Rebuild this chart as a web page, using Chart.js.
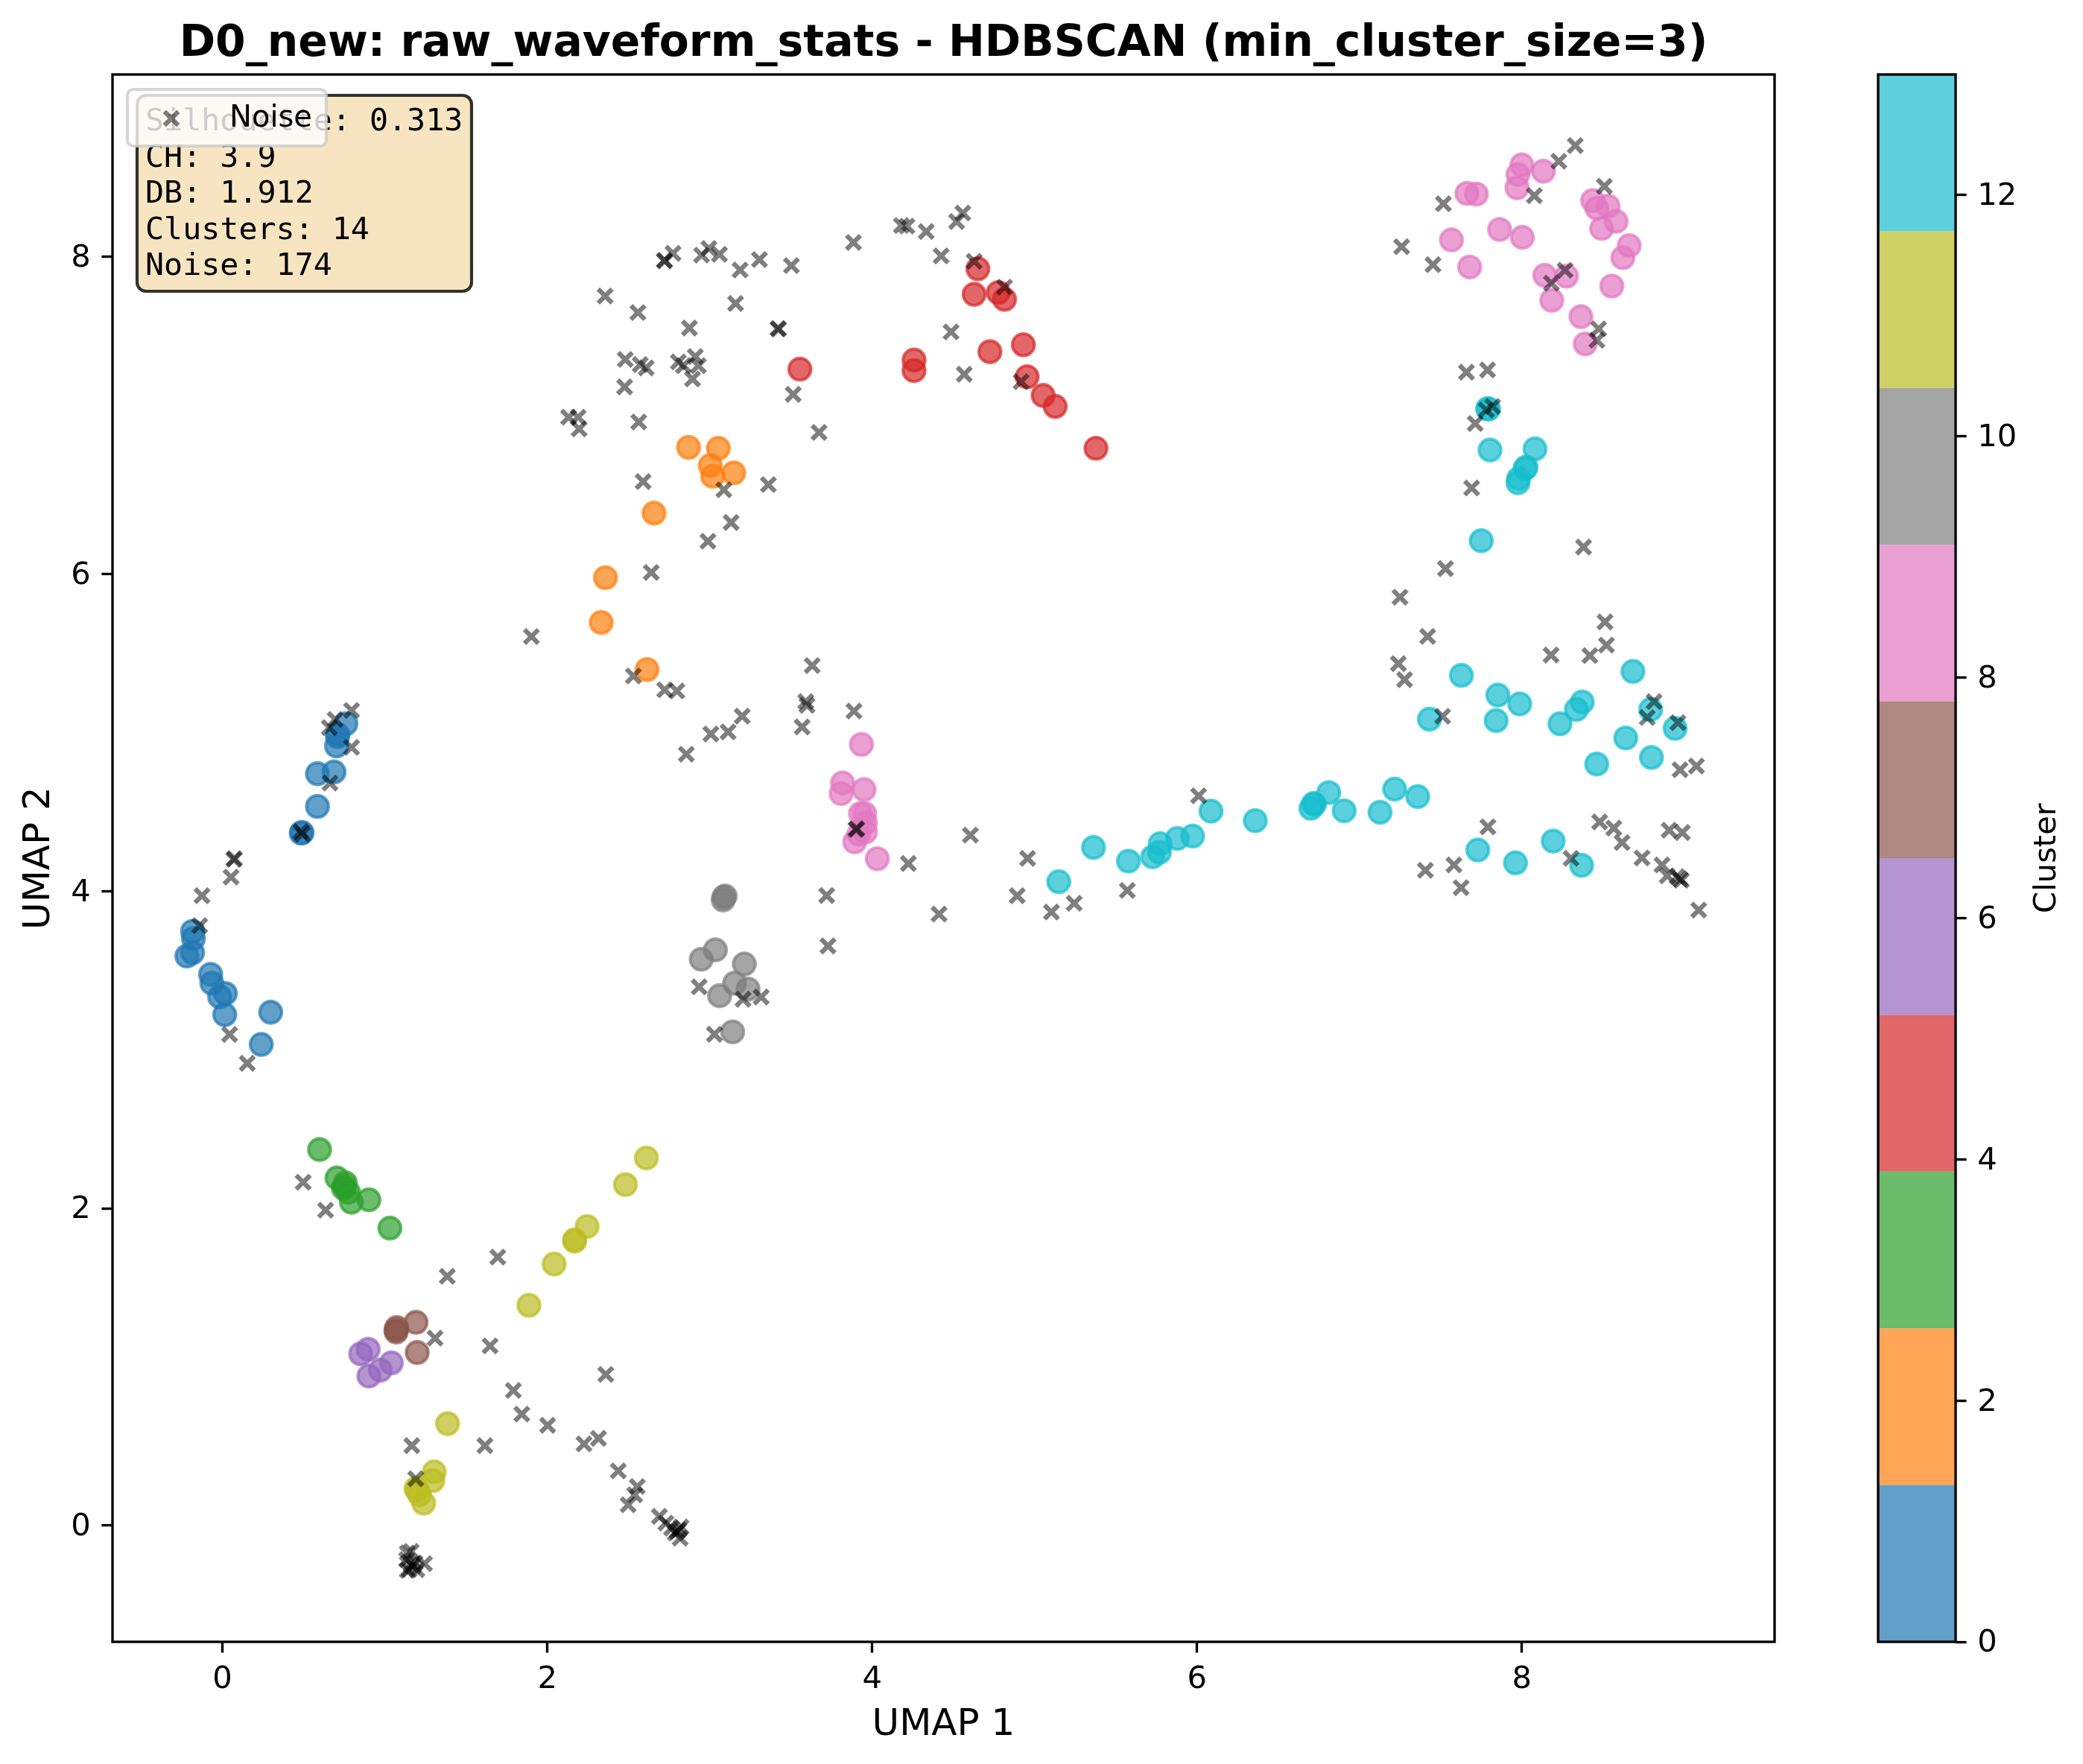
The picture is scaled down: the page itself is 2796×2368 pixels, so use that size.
<!DOCTYPE html>
<html>
<head>
<meta charset="utf-8">
<title>D0_new raw_waveform_stats HDBSCAN</title>
<script src="https://cdn.jsdelivr.net/npm/chart.js@4/dist/chart.umd.min.js"></script>
<style>
  html, body { margin: 0; padding: 0; background: #fff; }
  #wrap { position: relative; width: 2796px; height: 2368px; }
  canvas { position: absolute; top: 0; }
  #main { left: 0; }
  #cbar { left: 2400px; }
</style>
</head>
<body>
<div id="wrap">
  <canvas id="main" width="2796" height="2368"></canvas>
  <canvas id="cbar" width="396" height="2368"></canvas>
</div>
<script>
// values, [umap1, umap2]
const noise = [
  [0.795,5.14],[0.694,5.083],[0.658,5.032],[0.795,4.907],[0.662,4.682],[0.483,4.376],[0.492,4.36],
  [0.074,4.206],[0.07,4.2],[0.053,4.089],[-0.126,3.972],[-0.14,3.783],[0.044,3.097],[0.153,2.915],
  [0.497,2.165],[0.635,1.989],[1.695,1.693],[1.384,1.572],[1.309,1.182],[1.648,1.133],[2.36,0.953],
  [1.791,0.852],[1.843,0.703],[2.002,0.632],[1.166,0.504],[1.616,0.504],[2.226,0.515],[2.315,0.55],
  [2.437,0.345],[1.19,0.295],[2.554,0.246],[2.538,0.194],[2.498,0.131],[2.69,0.058],[2.73,0.016],
  [2.765,-0.016],[2.8,-0.037],[2.811,-0.026],[2.818,-0.079],[2.788,-0.047],[2.823,-0.009],
  [1.138,-0.173],[1.162,-0.163],[1.134,-0.215],[1.162,-0.246],[1.185,-0.236],[1.15,-0.278],
  [1.173,-0.257],[1.197,-0.278],[1.244,-0.24],[1.138,-0.282],
  [8.329,8.702],[8.228,8.603],[8.508,8.445],[8.077,8.386],[7.517,8.335],[7.26,8.064],[7.453,7.951],
  [8.266,7.916],[8.182,7.834],[8.473,7.546],[8.462,7.474],[7.659,7.273],[7.789,7.287],[7.82,7.057],
  [7.781,7.034],[7.713,6.949],[7.691,6.543],[7.53,6.034],[8.38,6.17],
  [7.25,5.854],[7.42,5.607],[7.24,5.435],[7.278,5.334],[7.512,5.103],[8.512,5.698],[8.521,5.552],
  [8.18,5.489],[8.419,5.486],[8.814,5.196],[8.772,5.095],[8.961,5.063],[8.974,4.766],[9.075,4.789],
  [7.791,4.406],[8.479,4.437],[8.566,4.398],[8.617,4.307],[8.74,4.21],[8.863,4.166],[8.895,4.097],
  [8.907,4.385],[8.988,4.37],[8.956,4.092],[8.974,4.077],[8.982,4.069],[8.303,4.207],[7.582,4.166],
  [7.406,4.132],[7.626,4.022],[9.089,3.881],
  [3.885,8.091],[2.774,8.022],[2.72,7.978],[2.723,7.975],[2.95,8.011],[2.995,8.053],[3.06,8.016],
  [3.187,7.917],[3.306,7.983],[3.503,7.945],[2.356,7.753],[2.558,7.649],[3.159,7.706],[2.875,7.551],
  [3.42,7.548],[3.424,7.545],[2.48,7.353],[2.572,7.321],[2.609,7.3],[2.807,7.338],[2.838,7.314],
  [2.911,7.372],[2.93,7.314],[2.894,7.23],[2.476,7.18],[3.514,7.133],[2.131,6.989],[2.19,6.989],
  [2.196,6.915],[2.563,6.959],[3.673,6.893],[2.59,6.583],[3.361,6.564],[3.087,6.531],[3.132,6.325],
  [2.989,6.207],[2.64,6.01],[1.902,5.606],[2.53,5.357],[2.723,5.27],[2.798,5.263],[3.631,5.423],
  [3.591,5.196],[3.599,5.172],[3.569,5.036],[3.888,5.136],[3.2,5.104],[3.113,5.005],[3.007,4.991],
  [2.856,4.864],[3.905,4.394],[3.9,4.39],[4.223,4.175],[3.72,3.973],[4.412,3.856],[3.728,3.655],
  [2.935,3.397],[3.205,3.319],[3.317,3.333],[3.029,3.098],
  [4.558,8.276],[4.52,8.223],[4.18,8.198],[4.214,8.194],[4.333,8.16],[4.425,8.006],[4.628,7.972],
  [4.815,7.809],[4.486,7.527],[4.567,7.26],[4.917,7.213],
  [6.01,4.602],[4.605,4.354],[4.957,4.207],[4.893,3.972],[5.244,3.924],[5.104,3.869],[5.571,4.005]
];
const blue = [
  [0.76,5.056],[0.711,4.988],[0.708,4.975],[0.702,4.916],[0.585,4.741],[0.687,4.752],[0.585,4.535],
  [0.485,4.367],[0.49,4.37],[-0.184,3.747],[-0.179,3.702],[-0.184,3.612],[-0.219,3.591],[-0.073,3.476],
  [-0.065,3.42],[0.018,3.355],[-0.017,3.334],[0.014,3.222],[0.297,3.237],[0.239,3.034]
];
const orange = [
  [2.87,6.799],[3.053,6.793],[3.003,6.685],[3.018,6.617],[3.148,6.638],[2.657,6.384],[2.358,5.977],
  [2.332,5.695],[2.614,5.398]
];
const green = [
  [0.598,2.371],[0.705,2.192],[0.757,2.161],[0.745,2.127],[0.776,2.102],[0.794,2.039],[0.902,2.054],
  [1.031,1.876],[0.75,2.14]
];
const red = [
  [4.651,7.925],[4.628,7.764],[4.777,7.775],[4.815,7.732],[4.931,7.446],[4.725,7.402],[4.258,7.349],
  [4.258,7.283],[4.954,7.244],[5.053,7.126],[5.127,7.057],[5.378,6.793],[3.555,7.292]
];
const purple = [[0.897,1.112],[0.851,1.083],[1.04,1.026],[0.972,0.98],[0.902,0.943]];
const brown = [[1.192,1.282],[1.073,1.249],[1.068,1.232],[1.07,1.221],[1.199,1.091]];
const pink = [
  [8.0,8.58],[7.976,8.52],[7.97,8.436],[8.133,8.54],[7.662,8.4],[7.72,8.396],[7.567,8.107],[7.863,8.173],
  [8.003,8.123],[7.679,7.936],[8.436,8.355],[8.462,8.306],[8.531,8.319],[8.58,8.224],[8.491,8.179],
  [8.661,8.071],[8.622,7.995],[8.554,7.816],[8.141,7.884],[8.275,7.879],[8.184,7.726],[8.364,7.623],
  [8.39,7.451],
  [3.934,4.926],[3.818,4.683],[3.809,4.616],[3.95,4.641],[3.928,4.49],[3.954,4.49],[3.959,4.431],
  [3.959,4.373],[3.918,4.359],[3.893,4.311],[4.032,4.205]
];
const gray = [
  [3.095,3.97],[3.087,3.962],[3.083,3.945],[3.035,3.63],[2.948,3.571],[3.213,3.541],[3.153,3.42],
  [3.236,3.383],[3.061,3.341],[3.141,3.113]
];
const olive = [
  [2.61,2.318],[2.481,2.15],[2.245,1.886],[2.168,1.802],[2.168,1.794],[2.042,1.649],[1.887,1.389],
  [1.386,0.643],[1.304,0.339],[1.295,0.284],[1.192,0.234],[1.213,0.194],[1.239,0.141],[1.197,0.225]
];
const cyan = [
  [7.789,7.043],[7.795,7.04],[7.804,6.782],[8.081,6.789],[8.026,6.674],[8.02,6.665],[7.98,6.602],[7.976,6.575],
  [7.75,6.21],[7.628,5.361],[7.852,5.237],[7.987,5.181],[7.842,5.076],[7.431,5.085],[8.235,5.056],
  [8.336,5.146],[8.372,5.193],[8.684,5.386],[8.793,5.146],[8.944,5.027],[8.64,4.966],[8.798,4.843],
  [8.461,4.802],[6.811,4.622],[6.718,4.554],[6.701,4.523],[6.906,4.507],[7.127,4.498],[7.217,4.644],
  [7.359,4.597],[7.729,4.26],[7.961,4.179],[8.193,4.316],[8.368,4.163],
  [5.149,4.06],[5.363,4.276],[5.578,4.19],[5.727,4.217],[5.769,4.246],[5.773,4.3],[5.879,4.333],
  [5.973,4.348],[6.086,4.505],[6.359,4.445],[6.723,4.547]
];

const xTicks = [0, 2, 4, 6, 8];
const yTicks = [0, 2, 4, 6, 8];
const cbarTicks = [0, 2, 4, 6, 8, 10, 12];
const cbarBands = [1.3, 1.3, 1.3, 1.3, 1.3, 1.3, 1.3, 1.3, 1.3, 1.3];
const statsLines = ['Silhouette: 0.313', 'CH: 3.9', 'DB: 1.912', 'Clusters: 14', 'Noise: 174'];

const tab10 = ['31,119,180', '255,127,14', '44,160,44', '214,39,40', '148,103,189',
  '140,86,75', '227,119,194', '127,127,127', '188,189,34', '23,190,207'];
const groups = [blue, orange, green, red, purple, brown, pink, gray, olive, cyan];

const FONT = "'DejaVu Sans'";
const PT = 300 / 72; // the source figure was saved at 300 dpi
const tickFont = { family: FONT, size: 10 * PT };

const clusterSets = groups.map((g, i) => ({
  data: g.map(p => ({ x: p[0], y: p[1] })),
  pointStyle: 'circle',
  pointRadius: 14.73,
  pointBorderWidth: 1 * PT,
  pointBackgroundColor: `rgba(${tab10[i]},0.7)`,
  pointBorderColor: `rgba(${tab10[i]},0.7)`
}));

const noiseSet = {
  label: 'Noise',
  data: noise.map(p => ({ x: p[0], y: p[1] })),
  pointStyle: 'crossRot',
  pointRadius: 13.2,
  pointBorderWidth: 1.5 * PT,
  pointBackgroundColor: 'rgba(0,0,0,0)',
  pointBorderColor: 'rgba(0,0,0,0.5)'
};

function spines(chart) {
  const a = chart.chartArea;
  const ctx = chart.ctx;
  ctx.save();
  ctx.strokeStyle = '#000';
  ctx.lineWidth = 0.8 * PT;
  ctx.strokeRect(a.left, a.top, a.width, a.height);
  ctx.restore();
}

function roundBox(ctx, x, y, w, h, r, fill, stroke, lw) {
  ctx.beginPath();
  ctx.roundRect(x, y, w, h, r);
  ctx.fillStyle = fill;
  ctx.fill();
  ctx.strokeStyle = stroke;
  ctx.lineWidth = lw;
  ctx.stroke();
}

// canvas text sits a little higher than in the original, nudge the vertical axis labels
function nudgeLabels(scale, dy) {
  if (scale._nudged) return;
  scale._nudged = true;
  const draw = scale.drawLabels;
  scale.drawLabels = function (area) {
    this.ctx.save();
    this.ctx.translate(0, dy);
    draw.call(this, area);
    this.ctx.restore();
  };
}

const annotations = {
  id: 'annotations',
  afterDatasetsDraw(chart) {
    const ctx = chart.ctx;
    spines(chart);
    ctx.save();
    // stats box
    roundBox(ctx, 184, 128, 449, 263, 12, 'rgba(245,222,179,0.8)', 'rgba(0,0,0,0.8)', 1 * PT);
    ctx.fillStyle = '#000';
    ctx.font = `${10 * PT}px 'DejaVu Sans Mono'`;
    ctx.textAlign = 'left';
    ctx.textBaseline = 'alphabetic';
    statsLines.forEach((line, i) => ctx.fillText(line, 195, 175 + i * 48.6));
    // legend, sits on top of the stats box like in the original
    roundBox(ctx, 171, 120, 267, 76, 8, 'rgba(255,255,255,0.8)', 'rgba(204,204,204,0.8)', 1 * PT);
    ctx.strokeStyle = 'rgba(0,0,0,0.5)';
    ctx.lineWidth = 1.5 * PT;
    Chart.helpers.drawPoint(ctx, {
      pointStyle: 'crossRot', rotation: 0, radius: 13.2, borderWidth: 1.5 * PT
    }, 230, 159);
    ctx.fillStyle = '#000';
    ctx.font = `40px ${FONT}`;
    ctx.fillText('Noise', 308, 170);
    ctx.restore();
  }
};

new Chart(document.getElementById('main'), {
  type: 'scatter',
  // first dataset is painted last, noise crosses sit over the circles
  data: { datasets: [noiseSet].concat(clusterSets) },
  plugins: [annotations],
  options: {
    responsive: false,
    devicePixelRatio: 1,
    animation: false,
    events: [],
    layout: { padding: { left: 0, right: 414, top: 0, bottom: 0 } },
    plugins: {
      legend: { display: false },
      tooltip: { enabled: false },
      title: {
        display: true,
        fullSize: false,
        text: 'D0_new: raw_waveform_stats - HDBSCAN (min_cluster_size=3)',
        color: '#000',
        font: { family: FONT, size: 14 * PT, weight: 'bold', lineHeight: 1.2 },
        padding: { top: 25, bottom: 5 }
      }
    },
    scales: {
      x: {
        type: 'linear',
        min: -0.677,
        max: 9.556,
        afterFit: s => { s.height = 164; },
        afterBuildTicks: s => { s.ticks = xTicks.map(v => ({ value: v })); },
        border: { display: false },
        grid: { drawOnChartArea: false, tickLength: 3.5 * PT, tickWidth: 0.8 * PT, tickColor: '#000' },
        ticks: { color: '#000', font: tickFont, padding: 11.5, maxRotation: 0, autoSkip: false, callback: v => String(v) },
        title: {
          display: true, text: 'UMAP 1', color: '#000',
          font: { family: FONT, size: 12 * PT, lineHeight: 1.2 },
          padding: { top: 0, bottom: 22 }
        }
      },
      y: {
        type: 'linear',
        min: -0.733,
        max: 9.15,
        afterFit: s => { s.width = 151; nudgeLabels(s, 2.5); },
        afterBuildTicks: s => { s.ticks = yTicks.map(v => ({ value: v })); },
        border: { display: false },
        grid: { drawOnChartArea: false, tickLength: 3.5 * PT, tickWidth: 0.8 * PT, tickColor: '#000' },
        ticks: { color: '#000', font: tickFont, padding: 3.5 * PT, autoSkip: false, callback: v => String(v) },
        title: {
          display: true, text: 'UMAP 2', color: '#000',
          font: { family: FONT, size: 12 * PT, lineHeight: 1.2 },
          padding: { top: 23, bottom: 0 }
        }
      }
    }
  }
});

// colorbar: ten stacked bands on its own canvas
const cbarLabel = {
  id: 'cbarLabel',
  afterDraw(chart) {
    const ctx = chart.ctx;
    const a = chart.chartArea;
    spines(chart);
    ctx.save();
    ctx.translate(348, (a.top + a.bottom) / 2);
    ctx.rotate(-Math.PI / 2);
    ctx.fillStyle = '#000';
    ctx.font = `${10 * PT}px ${FONT}`;
    ctx.textAlign = 'center';
    ctx.textBaseline = 'middle';
    ctx.fillText('Cluster', 0, 0);
    ctx.restore();
  }
};

new Chart(document.getElementById('cbar'), {
  type: 'bar',
  data: {
    labels: ['Cluster'],
    datasets: cbarBands.map((h, i) => ({
      data: [h],
      backgroundColor: `rgba(${tab10[i]},0.7)`,
      borderWidth: 0,
      inflateAmount: 0,
      barPercentage: 1,
      categoryPercentage: 1,
      order: i
    }))
  },
  plugins: [cbarLabel],
  options: {
    responsive: false,
    devicePixelRatio: 1,
    animation: false,
    events: [],
    layout: { padding: { left: 121, right: 0, top: 100, bottom: 0 } },
    plugins: { legend: { display: false }, tooltip: { enabled: false }, title: { display: false } },
    scales: {
      x: {
        stacked: true,
        afterFit: s => { s.height = 164; },
        border: { display: false },
        grid: { display: false },
        ticks: { display: false }
      },
      y: {
        stacked: true,
        position: 'right',
        min: 0,
        max: 13,
        afterFit: s => { s.width = 171; nudgeLabels(s, 2.5); },
        afterBuildTicks: s => { s.ticks = cbarTicks.map(v => ({ value: v })); },
        border: { display: false },
        grid: { drawOnChartArea: false, tickLength: 3.5 * PT, tickWidth: 0.8 * PT, tickColor: '#000' },
        ticks: { color: '#000', font: tickFont, padding: 3.5 * PT, autoSkip: false, callback: v => String(v) }
      }
    }
  }
});
</script>
</body>
</html>
